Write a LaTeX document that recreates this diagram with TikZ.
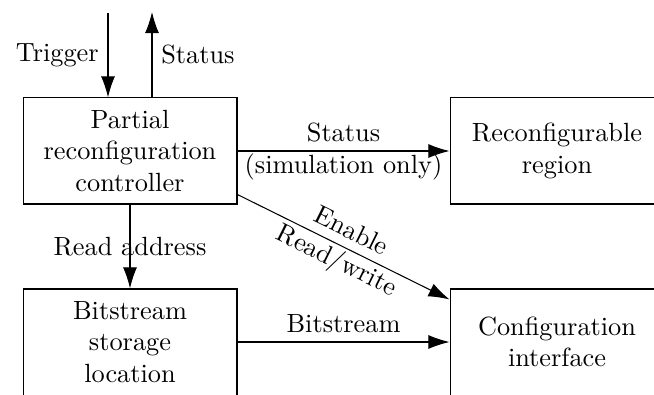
\documentclass[tikz,border=0pt]{standalone}
\usetikzlibrary{arrows.meta,calc}

\tikzset{
  block/.style={draw, rectangle, align=center, minimum width=81.3pt,
    minimum height=40.3pt, inner sep=0pt},
  flow/.style={-{Latex[length=8pt,width=5.3pt]}},
  tightbelow/.style={below, inner sep=1pt},
}

\begin{document}
\begin{tikzpicture}[x=0.38pt, y=-0.38pt]
  \clip (0,0) rectangle (654,394);

  % blocks
  \node[block] (prc) at (130,151) {Partial\\reconfiguration\\controller};
  \node[block] (rr)  at (557,151) {Reconfigurable\\region};
  \node[block] (bsl) at (130,342) {Bitstream\\storage\\location};
  \node[block] (ci)  at (557,342) {Configuration\\interface};

  % external signals of the controller
  \coordinate (trigin) at (108,13);
  \coordinate (statout) at (152,12);
  \draw[flow] (trigin) -- node[left] {Trigger} (trigin |- prc.north);
  \draw[flow] (statout |- prc.north) -- node[right] {Status} (statout);

  % connections between blocks
  \draw[flow] (prc) -- node[above] {Status} node[tightbelow] {(simulation only)} (rr);
  \draw[flow] (prc) -- node {Read address} (bsl);
  \draw[flow] ($(prc.south east)+(0,-10)$) --
    node[sloped,above] {Enable} node[sloped,tightbelow] {Read/write}
    ($(ci.north west)+(0,11)$);
  \draw[flow] (bsl) -- node[above] {Bitstream} (ci);
\end{tikzpicture}
\end{document}
